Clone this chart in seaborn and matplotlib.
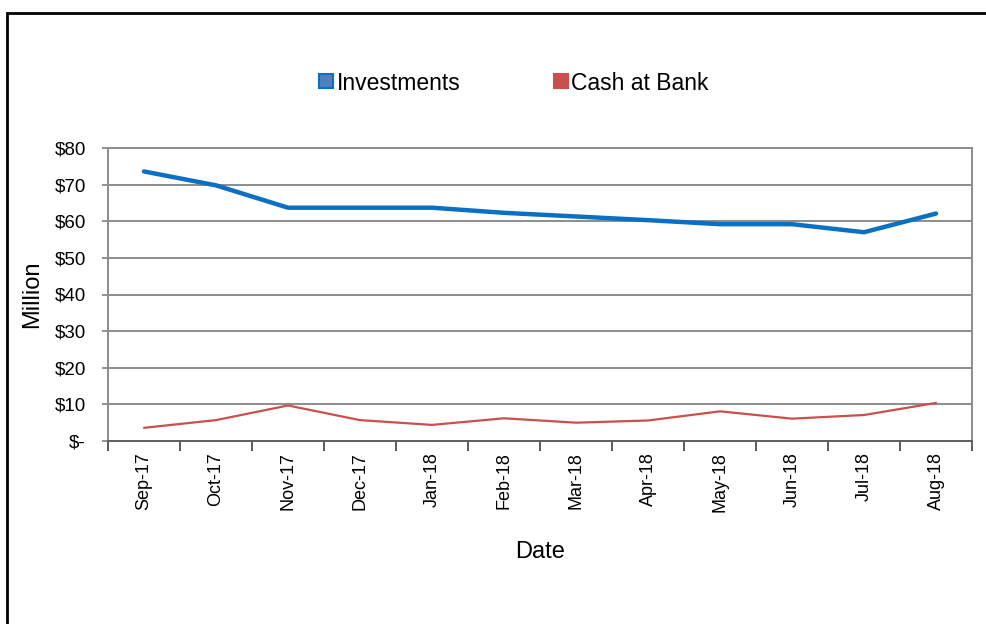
import matplotlib
matplotlib.use("Agg")
import matplotlib.pyplot as plt
import seaborn as sns
import pandas as pd
import numpy as np
from matplotlib.lines import Line2D
from matplotlib.patches import Rectangle
from matplotlib.ticker import FuncFormatter, FixedLocator

months = ["Sep-17", "Oct-17", "Nov-17", "Dec-17", "Jan-18", "Feb-18",
          "Mar-18", "Apr-18", "May-18", "Jun-18", "Jul-18", "Aug-18"]
investments = [73.6, 69.8, 63.7, 63.7, 63.7, 62.3, 61.3, 60.3, 59.2, 59.2, 57.0, 62.1]
cash_at_bank = [3.6, 5.7, 9.7, 5.7, 4.4, 6.2, 5.0, 5.6, 8.1, 6.1, 7.1, 10.4]
series_names = ["Investments", "Cash at Bank"]
y_ticks = [0, 10, 20, 30, 40, 50, 60, 70, 80]

colors = {"Investments": "#0A70C4", "Cash at Bank": "#C9504D"}
widths = {"Investments": 3.2, "Cash at Bank": 1.6}

df = pd.DataFrame({
    "idx": list(range(len(months))) * 2,
    "value": investments + cash_at_bank,
    "series": [series_names[0]] * len(months) + [series_names[1]] * len(months),
})

sns.set_style("white")
plt.rcParams['font.family'] = ['Liberation Sans', 'DejaVu Sans']
plt.rcParams['text.color'] = 'black'
plt.rcParams['axes.labelcolor'] = 'black'
plt.rcParams['xtick.color'] = 'black'
plt.rcParams['ytick.color'] = 'black'

fig = plt.figure(figsize=(9.87, 6.24), dpi=100)
ax = fig.add_axes([108/987, 1-441/624, (972-108)/987, (441-148)/624])

for name in series_names:
    sub = df[df["series"] == name]
    sns.lineplot(data=sub, x="idx", y="value", ax=ax, color=colors[name],
                 linewidth=widths[name], legend=False, zorder=3)

ax.set_xlim(-0.5, len(months) - 0.5)
ax.set_ylim(0, 80)
ax.set_yticks(y_ticks)
ax.yaxis.set_major_formatter(FuncFormatter(lambda v, p: "$-" if v == 0 else f"${int(v)}"))
ax.grid(axis="y", color="#8C8C8C", linewidth=1.4, zorder=1)
ax.set_axisbelow(True)

# category axis: ticks between categories, labels at centers
ax.xaxis.set_major_locator(FixedLocator(np.arange(-0.5, len(months), 1.0)))
ax.xaxis.set_major_formatter(FuncFormatter(lambda v, p: ""))
ax.set_xticks(np.arange(len(months)), minor=True)
ax.set_xticklabels(months, minor=True, rotation=90, fontsize=13)
ax.tick_params(axis="x", which="major", direction="out", length=7, width=1.2,
               color="#404040", bottom=True)
ax.tick_params(axis="x", which="minor", length=0, pad=8, labelcolor="black")
ax.tick_params(axis="y", direction="out", length=4, width=1.2, color="#808080",
               labelsize=13.5, left=True, pad=12, labelcolor="black")

for side in ["left", "right", "top", "bottom"]:
    ax.spines[side].set_visible(True)
    ax.spines[side].set_color("#8C8C8C")
    ax.spines[side].set_linewidth(1.4)
ax.spines["bottom"].set_color("#606060")

ax.set_xlabel("Date", fontsize=17, labelpad=21, color="black")
ax.set_ylabel("Million", fontsize=17, labelpad=8, color="black")

handles = [Line2D([0], [0], marker="s", linestyle="none", markersize=10,
                  markerfacecolor=("#4F81BD" if n == "Investments" else colors[n]),
                  markeredgecolor=colors[n], markeredgewidth=1.5)
           for n in series_names]
leg = fig.legend(handles, series_names, loc="center", bbox_to_anchor=(513/987, 1-83/624),
                 ncol=2, frameon=False, fontsize=16.5, handletextpad=0.05,
                 columnspacing=4.0, handlelength=0.8)
for t in leg.get_texts():
    t.set_color("black")

# outer chart frame (partially cropped)
fig.patches.append(Rectangle((7/987, -0.1), 1.2, 1-13/624+0.1,
                             transform=fig.transFigure, fill=False,
                             edgecolor="black", linewidth=2, clip_on=False))

fig.savefig("out.png", dpi=100)
